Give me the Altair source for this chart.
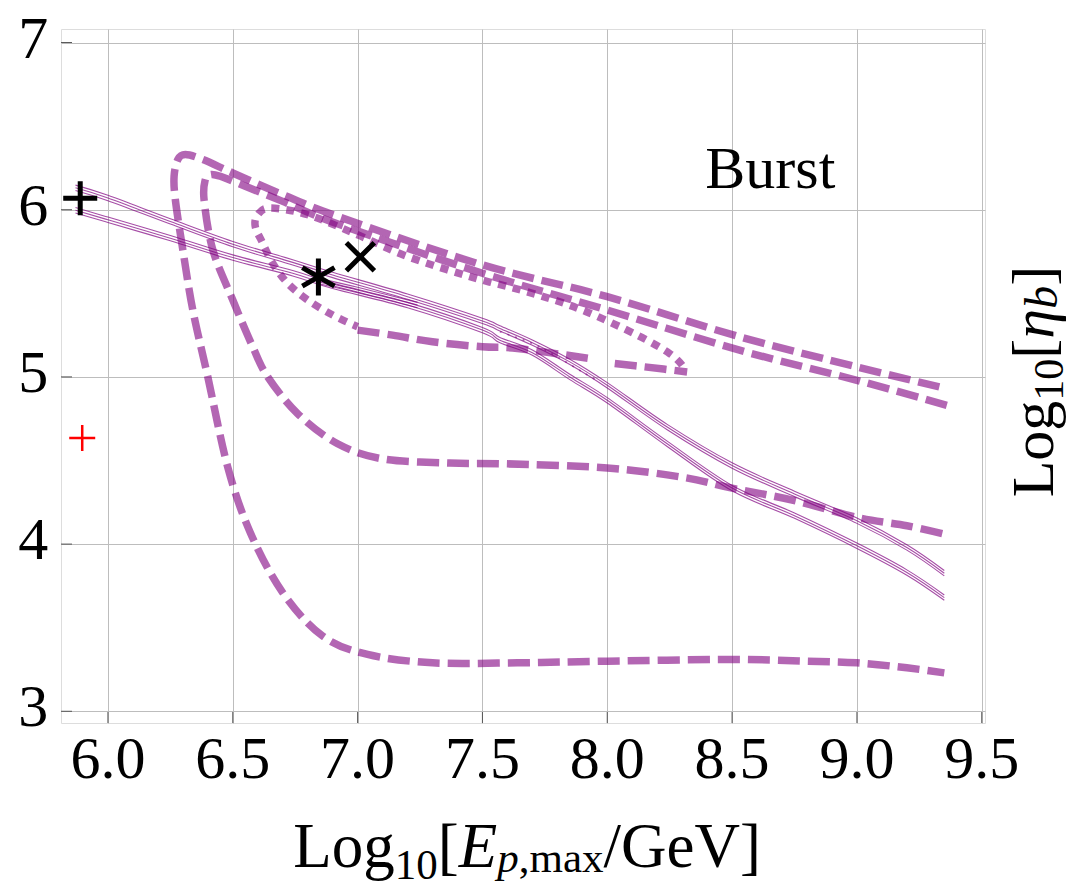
import altair as alt
import pandas as pd

# ---------------- data ----------------
x_ticks = [6.0, 6.5, 7.0, 7.5, 8.0, 8.5, 9.0, 9.5]
y_ticks = [3, 4, 5, 6, 7]

# dashed contour 1 (outer loop)
d1_x = [9.33, 9.0, 8.53, 8.0, 7.5, 6.93, 6.7, 6.5, 6.38, 6.31, 6.28, 6.265, 6.27, 6.30,
        6.34, 6.40, 6.48, 6.57, 6.70, 6.86, 7.04, 7.30, 7.64, 8.0, 8.5, 8.8, 9.0, 9.2, 9.35]
d1_y = [4.94, 5.06, 5.24, 5.48, 5.67, 5.955, 6.09, 6.22, 6.30, 6.33, 6.30, 6.20, 6.06, 5.76,
        5.40, 5.00, 4.46, 4.07, 3.71, 3.45, 3.34, 3.29, 3.29, 3.30, 3.31, 3.30, 3.29, 3.26, 3.23]

# dashed contour 2 (inner loop)
d2_x = [9.36, 9.0, 8.53, 8.0, 7.5, 6.93, 6.7, 6.55, 6.45, 6.41, 6.39, 6.385, 6.42, 6.50,
        6.58, 6.64, 6.76, 6.92, 7.10, 7.37, 7.6, 8.0, 8.3, 8.5, 8.75, 9.0, 9.2, 9.35]
d2_y = [4.83, 4.98, 5.16, 5.40, 5.62, 5.91, 6.05, 6.14, 6.20, 6.21, 6.18, 6.06, 5.76, 5.46,
        5.18, 5.00, 4.78, 4.60, 4.51, 4.485, 4.48, 4.455, 4.40, 4.335, 4.26, 4.16, 4.11, 4.06]

# small loop: dotted upper part and dashed lower part
s_top_x = [8.30, 8.25, 8.12, 7.90, 7.70, 7.45, 7.20, 7.00, 6.80, 6.65, 6.60, 6.59, 6.62, 6.66, 6.72, 6.80, 6.90, 7.00]
s_top_y = [5.07, 5.14, 5.25, 5.40, 5.50, 5.60, 5.72, 5.85, 5.97, 6.01, 5.97, 5.90, 5.80, 5.68, 5.56, 5.46, 5.37, 5.30]
s_bot_x = [7.00, 7.14, 7.30, 7.50, 7.64, 7.93]
s_bot_y = [5.28, 5.25, 5.21, 5.18, 5.17, 5.11]
s_bot2_x = [8.03, 8.15, 8.32]
s_bot2_y = [5.08, 5.06, 5.03]

# solid thin bundles (three close lines each)
ba_x = [5.87, 6.0, 6.25, 6.5, 6.74, 6.9, 7.2, 7.5, 7.57, 7.7, 7.85, 8.0, 8.24, 8.5, 8.75, 9.0, 9.2, 9.35]
ba_y = [6.131, 6.07, 5.93, 5.794, 5.685, 5.61, 5.48, 5.335, 5.29, 5.205, 5.09, 4.95, 4.70, 4.47, 4.30, 4.14, 3.98, 3.826]
bb_x = [5.87, 6.0, 6.25, 6.5, 6.74, 6.9, 7.2, 7.5, 7.57, 7.7, 7.85, 8.0, 8.24, 8.5, 8.75, 9.0, 9.2, 9.35]
bb_y = [5.997, 5.94, 5.83, 5.714, 5.62, 5.545, 5.43, 5.28, 5.22, 5.145, 5.0, 4.86, 4.60, 4.335, 4.17, 3.99, 3.83, 3.68]
bc_x = [6.84, 7.0, 7.24]
bc_y = [5.575, 5.52, 5.43]
bundle_spread = [-0.016, 0.0, 0.016]

# thin dotted fragment
td_x = [7.57, 7.7, 7.8, 7.9, 7.97]
td_y = [5.27, 5.20, 5.12, 5.03, 4.97]

# markers
mk_name = ["black_plus", "red_plus", "asterisk", "cross"]
mk_x = [5.889, 5.897, 6.843, 7.011]
mk_y = [6.069, 4.634, 5.598, 5.719]

# ---------------- helpers ----------------
PURPLE = "#800080"
FONT = "Liberation Serif, Times New Roman, serif"
X_DOM = [5.812, 9.513]
Y_DOM = [2.93, 7.081]
W, H = 924, 694

xs = alt.Scale(domain=X_DOM, nice=False, zero=False)
ys = alt.Scale(domain=Y_DOM, nice=False, zero=False)

X_AX = alt.Axis(values=x_ticks, grid=True, gridColor="#bdbdbd", gridWidth=1,
                domain=False, ticks=False, labels=False, title=None)
Y_AX = alt.Axis(values=y_ticks, grid=True, gridColor="#bdbdbd", gridWidth=1,
                domain=False, ticks=False, labels=False, title=None)


def X(field="x"):
    return alt.X(f"{field}:Q", scale=xs, axis=X_AX, title=None)


def Y(field="y"):
    return alt.Y(f"{field}:Q", scale=ys, axis=Y_AX, title=None)


def frame(series):
    rows = []
    for name, xv, yv in series:
        for i, (a, b) in enumerate(zip(xv, yv)):
            rows.append({"s": name, "i": i, "x": a, "y": b})
    return pd.DataFrame(rows)


def lines(df, width, dash=None, opacity=0.6, interp="cardinal"):
    kw = dict(color=PURPLE, strokeWidth=width, opacity=opacity, interpolate=interp,
              strokeCap="butt", clip=True)
    if dash:
        kw["strokeDash"] = dash
    return alt.Chart(df).mark_line(**kw).encode(
        x=X(), y=Y(), detail="s:N", order="i:Q",
    )


axis_df = pd.DataFrame({"x": [X_DOM[0]], "y": [Y_DOM[0]]})
base = alt.Chart(axis_df).mark_point(opacity=0).encode(x=X(), y=Y())

# tick labels: one constant-text mark per tick, placed through the scales
tick_df = pd.DataFrame({"x": x_ticks})
ytick_df = pd.DataFrame({"y": y_ticks})
xlabels = [
    alt.Chart(tick_df).transform_filter(alt.datum.x == v).mark_text(
        text=f"{v:.1f}", font=FONT, fontSize=60, baseline="alphabetic", align="center",
        color="black"
    ).encode(x=X(), y=alt.value(749.3))
    for v in x_ticks
]
ylabels = [
    alt.Chart(ytick_df).transform_filter(alt.datum.y == v).mark_text(
        text=f"{v:d}", font=FONT, fontSize=60, baseline="alphabetic", align="right",
        color="black", dy=15
    ).encode(x=alt.value(-12.7), y=Y())
    for v in y_ticks
]

# small inward frame ticks
yticks_marks = alt.Chart(ytick_df).mark_rule(color="#555555", strokeWidth=1).encode(
    y=Y(), x=alt.value(0), x2=alt.value(11)
)
xticks_marks = alt.Chart(tick_df).mark_rule(color="#555555", strokeWidth=1).encode(
    x=X(), y=alt.value(H), y2=alt.value(H - 11)
)

dashed_df = frame([("d1", d1_x, d1_y), ("d2", d2_x, d2_y),
                   ("sb", s_bot_x, s_bot_y), ("sb2", s_bot2_x, s_bot2_y)])
dotted_df = frame([("st", s_top_x, s_top_y)])

bundle_series = []
for bname, bx, by in [("A", ba_x, ba_y), ("B", bb_x, bb_y), ("C", bc_x, bc_y)]:
    for k, off in enumerate(bundle_spread):
        bundle_series.append((f"{bname}{k}", bx, [v + off for v in by]))
bundle_df = frame(bundle_series)
td_df = frame([("td", td_x, td_y)])

dashed = lines(dashed_df, 7.5, dash=[22, 8])
dotted = lines(dotted_df, 7.5, dash=[8, 7])
bundles = lines(bundle_df, 1.1, opacity=0.7)
thin_dots = lines(td_df, 1.6, dash=[2, 6], opacity=0.6)

mk_df = pd.DataFrame({"name": mk_name, "x": mk_x, "y": mk_y})
PLUS = "M-1,0H1M0,-1V1"
AST = "M0,-1V1M-0.87,-0.5L0.87,0.5M-0.87,0.5L0.87,-0.5"
CROSS = "M-1,-1L1,1M-1,1L1,-1"


def marker(name, shape, size, color, sw):
    return alt.Chart(mk_df).transform_filter(alt.datum.name == name).mark_point(
        shape=shape, size=size, filled=False, stroke=color, strokeWidth=sw, opacity=1,
        strokeCap="butt"
    ).encode(x=X(), y=Y())


markers = [
    marker("black_plus", PLUS, 1156, "black", 5),
    marker("red_plus", PLUS, 676, "#ff0000", 2.5),
    marker("asterisk", AST, 1369, "black", 5),
    marker("cross", CROSS, 784, "black", 5),
]

# ---------------- rich-text titles ----------------
CW = {"L": .611, "o": .5, "g": .5, "1": .5, "0": .5, "[": .333, "]": .333, "E": .611,
      "p": .5, ",": .25, "m": .778, "a": .444, "x": .5, "/": .278, "G": .722, "e": .444,
      "V": .722, "η": .5, "b": .5}


def text_width(t, size):
    return sum(CW.get(c, .5) for c in t) * size


def rich_text(segments, x0, y0, vertical=False):
    layers = []
    pos = 0.0
    for txt, size, style, shift in segments:
        if vertical:
            xv, yv = x0 + shift, y0 - pos
            ang = 270
        else:
            xv, yv = x0 + pos, y0 + shift
            ang = 0
        layers.append(
            alt.Chart(axis_df).mark_text(
                text=txt, font=FONT, fontSize=size, fontStyle=style, align="left",
                baseline="alphabetic", angle=ang, color="black"
            ).encode(x=alt.value(xv), y=alt.value(yv))
        )
        pos += text_width(txt, size)
    return layers


FX, SX = 63, 43
xtitle = rich_text([("Log", FX, "normal", 0), ("10", SX, "normal", 12), ("[", FX, "normal", 0),
                    ("E", FX, "italic", 0), ("p", SX, "italic", 5), (",max", SX, "normal", 5),
                    ("/GeV]", FX, "normal", 0)], 232.3, 838.3)
FY, SY = 60, 42
ytitle = rich_text([("Log", FY, "normal", 0), ("10", SY, "normal", 10), ("[", FY, "normal", 0),
                    ("η", FY, "italic", 0), ("b", 46, "italic", 4), ("]", FY, "normal", 0)],
                   992.3, 468.3, vertical=True)

burst = alt.Chart(axis_df).mark_text(
    text="Burst", font=FONT, fontSize=60, align="left", baseline="alphabetic", color="black"
).encode(x=alt.value(644.3), y=alt.value(159.3))

chart = alt.layer(
    base, yticks_marks, xticks_marks, dashed, dotted, thin_dots, bundles, *markers,
    *xlabels, *ylabels, burst, *xtitle, *ytitle
).properties(
    width=W, height=H,
    autosize=alt.AutoSizeParams(type="none"),
    padding={"left": 53, "top": 21, "right": 84, "bottom": 160},
).configure_view(
    stroke="#8a8a8a", strokeWidth=1.5
).configure(background="white")

chart.save("out.html", embed_options={"renderer": "svg", "actions": False})
